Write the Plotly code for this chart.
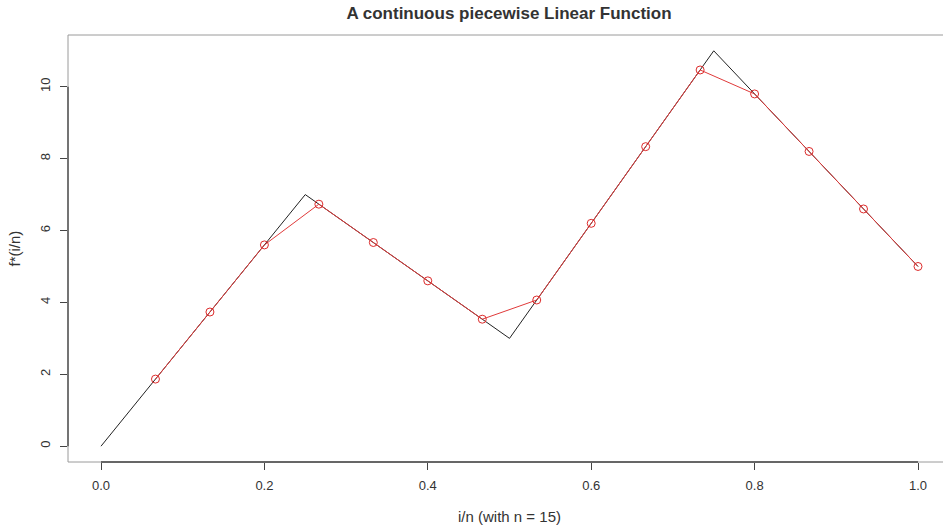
import plotly.graph_objects as go

# Black piecewise linear function (knots)
knot_x = [0.0, 0.25, 0.5, 0.75, 1.0]
knot_y = [0.0, 7.0, 3.0, 11.0, 5.0]

# Red sampled points at i/n, n = 15
sample_x = [1/15, 2/15, 3/15, 4/15, 5/15, 6/15, 7/15, 8/15, 9/15, 10/15, 11/15, 12/15, 13/15, 14/15, 15/15]
sample_y = [1.867, 3.733, 5.6, 6.733, 5.667, 4.6, 3.533, 4.067, 6.2, 8.333, 10.467, 9.8, 8.2, 6.6, 5.0]

x_ticks = [0.0, 0.2, 0.4, 0.6, 0.8, 1.0]
x_tick_labels = ["0.0", "0.2", "0.4", "0.6", "0.8", "1.0"]
y_ticks = [0, 2, 4, 6, 8, 10]
y_tick_labels = ["0", "2", "4", "6", "8", "10"]

FONT = "Liberation Sans, Arial, Helvetica, sans-serif"
TXT = "#333333"
AX = "#444444"

fig = go.Figure()
fig.add_trace(go.Scatter(x=knot_x, y=knot_y, mode="lines",
                         line=dict(color="#222222", width=1), showlegend=False))
fig.add_trace(go.Scatter(x=sample_x, y=sample_y, mode="lines+markers",
                         line=dict(color="#e03a3a", width=1),
                         marker=dict(symbol="circle-open", size=8, color="#dd2a2a",
                                     line=dict(width=1)),
                         showlegend=False))

fig.update_layout(
    width=943, height=529,
    margin=dict(l=68, r=0, t=35, b=67),
    plot_bgcolor="white", paper_bgcolor="white",
    font=dict(family=FONT, color=TXT, size=13),
    title=dict(text="<b>A continuous piecewise Linear Function</b>",
               x=(68 + 950) / 2 / 943, xanchor="center", y=1 - 13 / 529, yanchor="middle",
               font=dict(size=17, color=TXT)),
    xaxis=dict(range=[-0.0404, 1.0306], showgrid=False, zeroline=False, showline=False,
               tickmode="array", tickvals=x_ticks, ticktext=x_tick_labels,
               ticks="outside", ticklen=7, tickcolor=AX, tickwidth=1,
               ticklabelstandoff=4,
               tickfont=dict(size=13, color=TXT)),
    yaxis=dict(range=[-0.44, 11.44], showgrid=False, zeroline=False, showline=False,
               tickmode="array", tickvals=y_ticks, ticktext=y_tick_labels,
               ticks="outside", ticklen=7, tickcolor=AX, tickwidth=1,
               ticklabelstandoff=5,
               tickangle=-90, tickfont=dict(size=13, color=TXT)),
    shapes=[
        dict(type="rect", xref="paper", yref="paper", x0=0, x1=1.01, y0=0, y1=1,
             line=dict(color="#9a9a9a", width=1), layer="above"),
        dict(type="line", xref="x", yref="paper", x0=0, x1=1, y0=0, y1=0,
             line=dict(color=AX, width=1.3), layer="above"),
        dict(type="line", xref="paper", yref="y", x0=0, x1=0, y0=0, y1=10,
             line=dict(color=AX, width=1.3), layer="above"),
    ],
    annotations=[
        dict(text="i/n (with n = 15)", xref="paper", yref="paper",
             x=((68 + 950) / 2 - 68) / 875, y=-(516 - 462) / 427, xanchor="center",
             yanchor="middle", showarrow=False, font=dict(size=15, color=TXT)),
        dict(text="f*(i/n)", xref="paper", yref="paper",
             x=-(68 - 14) / 875, y=0.5, xanchor="center", yanchor="middle",
             textangle=-90, showarrow=False, font=dict(size=15, color=TXT)),
    ],
)

fig.write_html("out.html")
